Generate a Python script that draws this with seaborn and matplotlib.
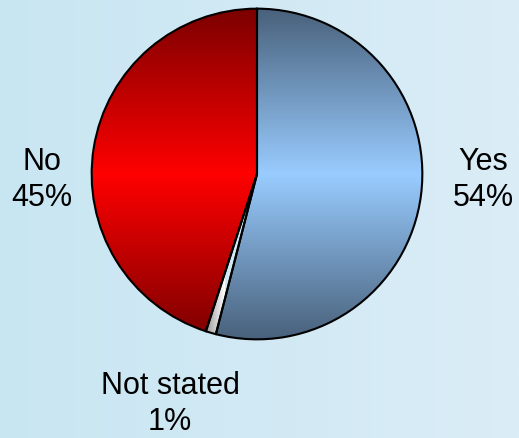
import numpy as np
import matplotlib
matplotlib.use("Agg")
import matplotlib.pyplot as plt
import seaborn as sns
from matplotlib.colors import LinearSegmentedColormap

categories = ["Yes", "Not stated", "No"]
values = [54, 1, 45]
pct_labels = ["54%", "1%", "45%"]

sns.set_theme(style="white")
plt.rcParams['font.family'] = ['Liberation Sans', 'DejaVu Sans']

W, H = 519, 439
fig = plt.figure(figsize=(W / 100, H / 100), dpi=100)

# background gradient
bg = fig.add_axes([0, 0, 1, 1])
bg_cmap = LinearSegmentedColormap.from_list("bg", ["#c8e6f2", "#dbedf7"])
bg.imshow(np.linspace(0, 1, 256)[None, :], aspect="auto", cmap=bg_cmap,
          extent=[0, 1, 0, 1])
bg.set_axis_off()

cx, cy, r = 257, 175, 167
ax = fig.add_axes([(cx - r) / W, (H - cy - r) / H, 2 * r / W, 2 * r / H])
wedges, _ = ax.pie(values, startangle=90, counterclock=False,
                   wedgeprops=dict(facecolor="none", edgecolor="black",
                                   linewidth=1.5))
ax.set_xlim(-1.01, 1.01)
ax.set_ylim(-1.01, 1.01)
ax.set_aspect("equal")
ax.set_axis_off()

grad_colors = {
    "Yes": ["#48607a", "#99ccff", "#48607a"],
    "No": ["#7a0000", "#ff0000", "#7a0000"],
}
t = np.linspace(0, 1, 256)[:, None]
for w, cat in zip(wedges, categories):
    if cat in grad_colors:
        cm = LinearSegmentedColormap.from_list(cat, grad_colors[cat])
        img = ax.imshow(t, aspect="auto", cmap=cm, extent=[-1.01, 1.01, -1.01, 1.01],
                        zorder=0.5)
    else:
        cm = LinearSegmentedColormap.from_list(cat, ["#9a9a9a", "#ffffff"])
        img = ax.imshow(np.linspace(0, 1, 256)[None, :], aspect="auto", cmap=cm,
                        extent=[-0.31, -0.2, -1.01, 0.0], zorder=0.5)
    img.set_clip_path(w)
    w.set_zorder(1)

label_pos = {"Yes": (483, 180), "Not stated": (170, 404), "No": (42, 180)}
for cat, p in zip(categories, pct_labels):
    x, y = label_pos[cat]
    fig.text(x / W, 1 - y / H, f"{cat}\n{p}", ha="center", va="center",
             fontsize=22, color="black", linespacing=1.28)

fig.savefig("out.png", dpi=100)
